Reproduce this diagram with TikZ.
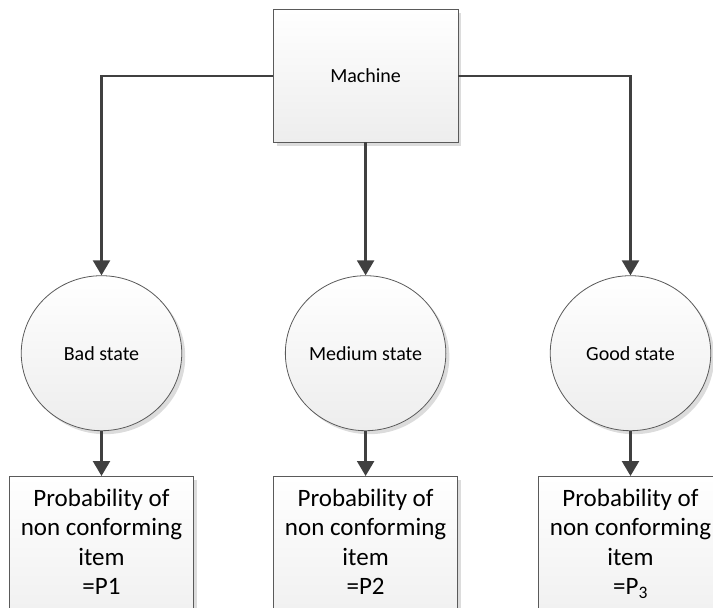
\documentclass[tikz,border=0pt]{standalone}
\usepackage{fontspec}
\setmainfont{Carlito}
\usetikzlibrary{arrows.meta,shadows,shapes.geometric}
\definecolor{linec}{HTML}{404040}
\definecolor{borderc}{HTML}{5A5A5A}
\definecolor{shadowc}{HTML}{DCDCDC}
\definecolor{fillbot}{HTML}{EDEDED}
\begin{document}
\begin{tikzpicture}[x=1pt,y=-1pt,
  base/.style={draw=borderc, line width=0.8pt, top color=white, bottom color=fillbot,
    drop shadow={shadow xshift=3.5pt, shadow yshift=-3.5pt, fill=shadowc, opacity=1}},
  machinebox/.style={base, rectangle, minimum width=184.7pt, minimum height=132.7pt, inner sep=0pt, font=\fontsize{20}{24}\selectfont},
  statecirc/.style={base, ellipse, minimum width=160.5pt, minimum height=155pt, inner sep=0pt, font=\fontsize{20}{24}\selectfont},
  probbox/.style={base, rectangle, minimum width=184.4pt, minimum height=170pt, inner sep=0pt, anchor=north},
  probtext/.style={align=center, anchor=north, font=\fontsize{25}{29.5}\selectfont, inner sep=0pt},
  conn/.style={draw=linec, line width=2.4pt, -{Triangle[width=17pt,length=15pt]}},
]
\clip (0,0) rectangle (713,608);
\node[machinebox] (machine) at (365.6,75.7) {Machine};
\node[statecirc] (bad) at (101.5,353.2) {Bad state};
\node[statecirc] (medium) at (365.6,353.2) {Medium state};
\node[statecirc] (good) at (630.5,353.2) {Good state};
\node[probbox] (p1) at (101.5,476) {};
\node[probbox] (p2) at (365.6,476) {};
\node[probbox] (p3) at (630.5,476) {};
\node[probtext] (t1) at ([yshift=-12.7pt]p1.north) {Probability of\\non conforming\\item\\=P1};
\node[probtext] (t2) at ([yshift=-12.7pt]p2.north) {Probability of\\non conforming\\item\\=P2};
\node[probtext] (t3) at ([yshift=-12.7pt]p3.north) {Probability of\\non conforming\\item\\=P\textsubscript{3}};
\draw[conn] (machine.west) -| (bad.north);
\draw[conn] (machine.south) -- (medium.north);
\draw[conn] (machine.east) -| (good.north);
\draw[conn] (bad.south) -- (p1.north);
\draw[conn] (medium.south) -- (p2.north);
\draw[conn] (good.south) -- (p3.north);
\end{tikzpicture}
\end{document}
